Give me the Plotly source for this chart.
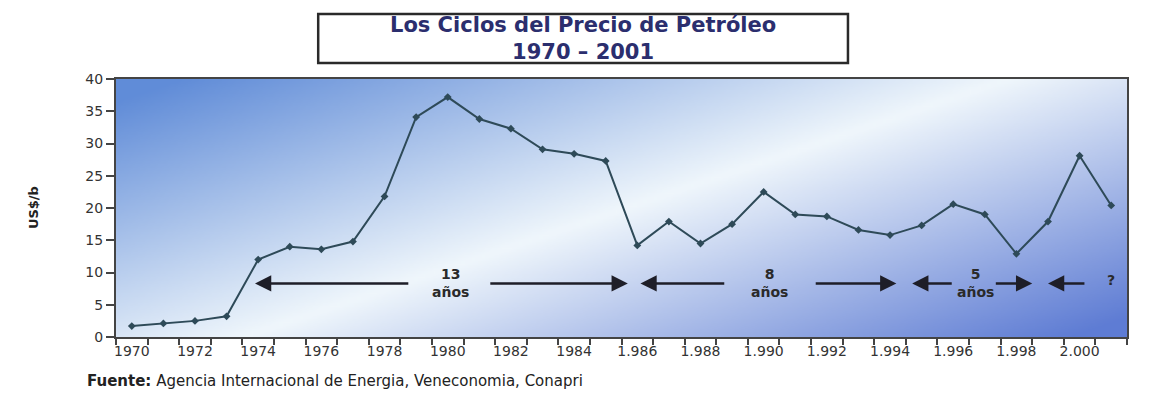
import base64, struct, zlib
import plotly.graph_objects as go

# ---------------- data ----------------
years = [1970, 1971, 1972, 1973, 1974, 1975, 1976, 1977, 1978, 1979, 1980,
         1981, 1982, 1983, 1984, 1985, 1986, 1987, 1988, 1989, 1990, 1991,
         1992, 1993, 1994, 1995, 1996, 1997, 1998, 1999, 2000, 2001]
price = [1.7, 2.1, 2.5, 3.2, 12.0, 14.0, 13.6, 14.8, 21.8, 34.1, 37.2,
         33.8, 32.3, 29.1, 28.4, 27.3, 14.2, 17.9, 14.5, 17.5, 22.5, 19.0,
         18.7, 16.6, 15.8, 17.3, 20.6, 19.0, 12.9, 17.9, 28.1, 20.4]
tick_years = [1970, 1972, 1974, 1976, 1978, 1980, 1982, 1984, 1986, 1988,
              1990, 1992, 1994, 1996, 1998, 2000]
tick_labels = ["1970", "1972", "1974", "1976", "1978", "1980", "1982", "1984",
               "1.986", "1.988", "1.990", "1.992", "1.994", "1.996", "1.998", "2.000"]
cycle_labels = ["13<br>años", "8<br>años", "5<br>años", "?"]

# ---------------- gradient background (PNG) ----------------
def make_png(w, h):
    tl = (96, 140, 216)
    br = (94, 124, 212)
    light = (240, 247, 252)
    rows = []
    for j in range(h):
        v = 1 - j / (h - 1)
        row = bytearray([0])
        for i in range(w):
            u = i / (w - 1)
            s = v - (u - 0.13) / 0.75
            f = min(1.0, abs(s) / 1.1) ** 1.0
            blue = tl if s > 0 else br
            for k in range(3):
                row.append(int(light[k] + (blue[k] - light[k]) * f))
        rows.append(bytes(row))
    raw = b"".join(rows)

    def chunk(tag, data):
        c = struct.pack(">I", len(data)) + tag + data
        return c + struct.pack(">I", zlib.crc32(tag + data) & 0xffffffff)

    png = b"\x89PNG\r\n\x1a\n"
    png += chunk(b"IHDR", struct.pack(">IIBBBBB", w, h, 8, 2, 0, 0, 0))
    png += chunk(b"IDAT", zlib.compress(raw, 9))
    png += chunk(b"IEND", b"")
    return "data:image/png;base64," + base64.b64encode(png).decode()

bg = make_png(300, 80)

# ---------------- figure ----------------
fig = go.Figure()
fig.add_trace(go.Scatter(
    x=years, y=price, mode="lines+markers",
    line=dict(color="#2e4a58", width=2),
    marker=dict(symbol="diamond", size=6, color="#2e4a58"),
    hoverinfo="x+y", showlegend=False))

font_main = "DejaVu Sans, Verdana, sans-serif"
arrow_col = "#1e1e28"
y_arrow = 8.3

# arrows: (head x, tail x)
arrows = [(1973.9, 1978.8), (1985.7, 1981.3),
          (1986.1, 1988.8), (1994.2, 1991.6),
          (1994.7, 1996.0), (1998.5, 1997.3),
          (1999.0, 2000.2)]
for head, tail in arrows:
    fig.add_annotation(x=head, y=y_arrow, ax=tail, ay=y_arrow,
                       xref="x", yref="y", axref="x", ayref="y",
                       text="", showarrow=True, arrowhead=2, arrowsize=1.3,
                       arrowwidth=2.5, arrowcolor=arrow_col)

label_x = [1980.1, 1990.2, 1996.7, 2001.0]
for lx, txt in zip(label_x, cycle_labels):
    fig.add_annotation(x=lx, y=y_arrow if txt != "?" else y_arrow + 0.5,
                       xref="x", yref="y", text="<b>" + txt + "</b>",
                       showarrow=False, font=dict(family=font_main, size=14, color="#2a2a2a"),
                       yanchor="middle", xanchor="center")

# title box
fig.add_shape(type="rect", xref="paper", yref="paper",
              x0=0.2, x1=0.724, y0=1.062, y1=1.252,
              fillcolor="white", line=dict(color="#2a2a2a", width=2.5), layer="above")
fig.add_annotation(xref="paper", yref="paper", x=0.462, y=1.157,
                   text="<b>Los Ciclos del Precio de Petróleo<br>1970 – 2001</b>",
                   showarrow=False, font=dict(family=font_main, size=21, color="#2b2e6e"),
                   xanchor="center", yanchor="middle")

# y axis title
fig.add_annotation(xref="paper", yref="paper", x=-0.082, y=0.5, textangle=-90,
                   text="<b>US$/b</b>", showarrow=False,
                   font=dict(family=font_main, size=13, color="#222222"),
                   xanchor="center", yanchor="middle")

# footer
fig.add_annotation(xref="paper", yref="paper", x=-0.031, y=-0.172,
                   text="<b>Fuente:</b> Agencia Internacional de Energia, Veneconomia, Conapri",
                   showarrow=False, font=dict(family=font_main, size=15, color="#222222"),
                   xanchor="left", yanchor="middle")

fig.add_layout_image(dict(source=bg, xref="paper", yref="paper", x=0, y=1,
                          sizex=1, sizey=1, sizing="stretch", layer="below",
                          xanchor="left", yanchor="top"))

fig.update_layout(
    width=1166, height=406,
    margin=dict(l=108, r=47, t=71, b=77),
    paper_bgcolor="white", plot_bgcolor="white",
    font=dict(family=font_main, color="#333333"),
    xaxis=dict(range=[1969.5, 2001.5], tickmode="array", tickvals=tick_years,
               ticktext=tick_labels, ticks="outside", ticklen=0.1,
               tickcolor="rgba(0,0,0,0)", showgrid=False, zeroline=False,
               showline=True, linecolor="#444444", linewidth=2, mirror=True,
               tickfont=dict(size=14, color="#333333"),
               minor=dict(tick0=1969.5, dtick=1, ticks="outside", ticklen=6,
                          tickcolor="#444444", tickwidth=2, showgrid=False)),
    yaxis=dict(range=[0, 40], dtick=5, ticks="outside", ticklen=8,
               tickcolor="#444444", tickwidth=2, showgrid=False, zeroline=False,
               showline=True, linecolor="#444444", linewidth=2, mirror=True,
               tickfont=dict(size=14, color="#333333")),
)

fig.write_html("out.html")
